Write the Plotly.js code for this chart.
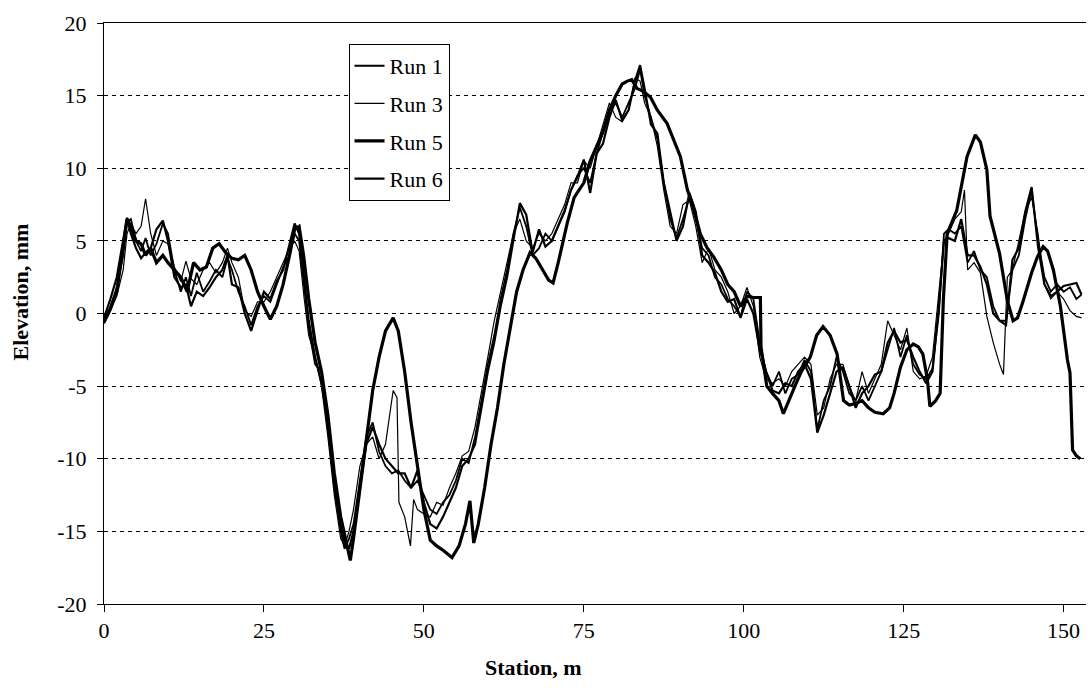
<!DOCTYPE html>
<html>
<head>
<meta charset="utf-8">
<script src="https://cdn.plot.ly/plotly-3.0.1.min.js"></script>
<style>html,body{margin:0;padding:0;background:#fff;}#chart{width:1089px;height:690px;}</style>
</head>
<body>
<div id="chart"></div>
<script>
// Station (m) and elevation (mm) for each run
const run1X = [0,1,2,3,3.6,4.2,5,5.8,6.5,7.3,8.2,9.2,10,11,12,12.8,13.6,14.5,15.5,16.5,17.5,18.5,19.3,20,21,22,23,24,25,26,27,28,29,29.8,30.5,31.3,32,33,34,35,36,37,37.6,38.3,39,40,41,42,43,44,45,46,47,48,49,50,51,52,53,54,55,56,57,58,59,60,61,62,63,64,65,66,67,68,69,70,71,72,73,74,75,76,77,78,79,80,81,82,83,83.8,84.5,85.5,86.5,87.5,88.5,89.5,90.5,91.5,92.5,93.5,94.5,95.5,96.5,97.5,98.5,99.5,100.5,101.5,102.5,103.5,104.5,105.5,106.5,107.5,108.5,109.5,110.5,111.5,112.5,113.5,114.5,115.5,116.5,117.5,118.5,119.5,120.5,121.5,122.5,123.5,124.5,125.5,126.5,127.5,128.5,129.5,130.5,131.3,132,133,134,135,136,137,138,139,140,141,142,143,144,145,146,147,148,149,150,151,152,152.8];
const run1Y = [-0.5,0.5,1.8,4.0,6.3,6.5,5.0,4.3,5.2,4.0,4.8,6.2,5.5,3.0,1.5,2.5,1.2,2.8,1.5,2.2,3.0,2.5,3.8,3.0,1.5,0.5,-0.8,0.5,1.2,0.8,2.0,3.2,4.0,5.5,5.0,2.0,-1.0,-3.5,-4.0,-8.0,-12.0,-15.0,-16.2,-15.5,-14.5,-11.5,-8.5,-7.5,-9.5,-10.5,-11.0,-10.8,-11.5,-12.0,-11.5,-12.5,-13.5,-13.8,-13.0,-12.5,-11.5,-10.0,-10.3,-8.5,-6.0,-3.5,-1.5,1.0,3.0,5.5,7.3,6.0,4.0,4.5,5.5,5.0,6.0,7.0,8.5,9.5,10.0,9.0,11.0,12.5,14.0,14.5,13.5,14.5,15.5,16.8,15.0,13.5,12.0,9.0,6.5,5.2,6.5,8.0,6.5,4.5,4.0,2.5,2.0,1.0,0.5,-0.2,1.5,1.0,-2.0,-4.0,-5.0,-4.0,-5.5,-4.5,-4.2,-3.2,-4.0,-8.0,-6.0,-5.0,-3.0,-4.0,-5.5,-6.0,-5.0,-6.0,-5.0,-4.0,-2.5,-1.0,-3.0,-1.5,-3.5,-4.2,-4.5,-3.8,0.0,5.5,5.8,5.5,6.0,3.5,4.3,3.0,2.5,0.5,-0.5,-0.5,3.0,4.0,6.5,8.5,5.0,2.5,1.5,2.0,1.5,1.8,1.0,1.3];

const run3X = [0,1,2,3,3.6,4.2,5,5.8,6.5,7.3,8.2,9.2,10,11,12,12.8,13.6,14.5,15.5,16.5,17.5,18.5,19.3,20,21,22,23,24,25,26,27,28,29,29.8,30.5,31.3,32,33,34,35,36,37,37.6,38.3,39,40,41,42,43,44,45.2,45.8,46.1,47,47.9,48.4,49,50,51,52,53,54,55,56,57,58,59,60,61,62,63,64,65,66,67,68,69,70,71,72,73,74,75,76,77,78,79,80,81,82,83,83.8,84.5,85.5,86.5,87.5,88.5,89.5,90.5,91.5,92.5,93.5,94.5,95.5,96.5,97.5,98.5,99.5,100.5,101.5,102.5,103.5,104.5,105.5,106.5,107.5,108.5,109.5,110.5,111.5,112.5,113.5,114.5,115.5,116.5,117.5,118.5,119.5,120.5,121.5,122.5,123.5,124.5,125.5,126.5,127.5,128.5,129.5,130.5,131.3,132,133,134,134.5,135,136,137,138,139,140,140.6,141.2,142,143,144,145,146,147,148,149,150,151,152,152.8];
const run3Y = [-0.7,0.2,1.2,3.0,5.5,6.2,5.5,6.0,7.9,5.5,4.0,5.0,4.8,3.2,2.2,3.6,2.4,2.0,3.0,3.5,2.8,3.5,4.5,3.5,2.5,0.2,-0.2,0.8,0.8,1.5,2.5,3.5,4.5,5.0,4.3,1.0,-1.5,-3.0,-5.0,-8.5,-12.5,-15.5,-16.0,-15.0,-13.5,-10.5,-9.0,-8.5,-10.0,-9.0,-5.3,-5.8,-13.0,-14.0,-16.0,-12.8,-13.5,-13.8,-14.0,-13.0,-13.2,-12.0,-11.0,-9.8,-9.5,-7.8,-5.5,-3.0,-0.5,1.5,3.5,5.5,6.5,5.0,4.5,5.5,5.0,5.5,6.5,7.5,9.0,9.0,10.5,10.0,11.5,13.0,14.5,13.5,13.2,14.0,16.2,16.0,14.5,13.5,11.5,8.5,6.0,5.5,7.5,7.8,6.0,3.5,4.5,3.0,2.5,1.5,0.0,0.5,1.8,0.5,-3.0,-4.5,-4.8,-4.5,-5.0,-4.0,-3.5,-3.0,-3.5,-7.0,-6.5,-4.5,-3.5,-3.5,-5.0,-6.0,-4.0,-5.5,-4.5,-3.5,-0.5,-1.5,-2.5,-1.0,-4.0,-4.5,-4.3,-3.0,1.5,5.0,5.5,6.5,7.0,8.5,3.0,3.5,2.8,-0.2,-2.0,-3.5,-4.2,2.5,3.0,5.0,7.0,8.0,5.5,2.0,1.0,1.5,1.0,0.2,-0.2,-0.3];

const run5X = [0,1,2,3,3.6,4.2,5,5.8,6.5,7.3,8.2,9.2,10,11,12,13,14,15,16,17,18,19,20,21,22,23,24,25,26,27,28,29,29.8,30.5,31.2,32,33,34,35,36,37,38,38.5,39,40,41,42,43,44,45.2,46,47,48,49,50,51,52,53,54.4,55.5,56.5,57.2,57.8,58.5,59.5,60.5,61.5,62.5,63.5,64.5,65.5,66.6,67.5,68.5,69.5,70.2,71,72.4,73.5,75,76,77,78,79,80,81,81.8,82.5,83.3,84.3,85.4,86.5,88,89,90.1,91.2,92,93.2,94.3,95.3,96.5,97.5,98.5,99.5,100.5,101.5,102.6,102.7,103.6,104.5,105.5,106.2,107,108,109,110.4,111.4,112.4,113.5,114.6,115.6,116.5,117.5,118.5,119.5,120.5,121.8,122.8,123.5,124.5,125.5,126.5,127.3,128,128.7,129.1,130,130.7,131.2,131.8,133.3,134.9,136.2,137,138,138.5,140,141.2,142.1,142.8,143.7,145,145.9,146.8,147.5,148.4,149.5,150.6,151,151.4,152,152.6];
const run5Y = [-0.6,0.3,1.5,4.5,6.5,6.0,5.0,4.8,4.0,4.5,3.5,4.0,3.5,3.0,2.5,1.5,3.5,3.0,3.2,4.5,4.8,4.2,3.8,3.7,4.0,3.0,1.5,0.5,-0.4,0.5,2.0,4.0,5.8,6.0,4.0,1.0,-2.0,-4.0,-7.0,-11.0,-14.0,-16.0,-17.0,-15.5,-12.0,-8.5,-5.3,-3.0,-1.2,-0.3,-1.2,-4.0,-7.5,-10.5,-13.5,-15.6,-16.0,-16.3,-16.8,-16.0,-14.5,-12.9,-15.8,-14.5,-12.0,-9.0,-6.5,-3.5,-0.9,1.5,3.0,4.2,3.8,3.0,2.3,2.1,3.5,6.2,8.0,9.0,10.5,11.5,12.5,14.0,15.0,15.8,16.0,16.1,15.5,15.3,14.9,14.0,13.1,12.0,10.8,8.5,7.5,5.5,4.5,3.9,3.0,2.0,1.5,0.5,1.2,1.1,1.1,-2.3,-5.0,-5.5,-6.0,-6.9,-6.0,-5.0,-4.0,-3.0,-1.5,-0.9,-1.5,-2.8,-6.0,-6.3,-6.2,-6.0,-6.5,-6.8,-6.9,-6.5,-5.5,-3.7,-2.5,-2.1,-2.3,-2.8,-4.5,-6.4,-6.0,-5.5,0.9,5.5,7.1,10.8,12.3,11.8,9.9,6.7,4.1,0.9,-0.5,-0.3,0.9,2.8,3.9,4.6,4.3,3.0,0.5,-3.2,-4.1,-9.4,-9.8,-10.0];

const run6X = run1X;
const run6Y = [-0.3,1.0,2.5,5.0,6.6,5.5,4.5,3.8,4.2,4.5,5.8,6.4,5.0,2.5,1.8,2.0,0.5,1.5,1.2,1.8,2.5,3.0,4.0,2.0,1.8,0.0,-1.2,0.2,1.5,1.0,2.2,3.0,4.8,6.2,5.5,2.5,-0.5,-3.0,-4.8,-7.5,-11.5,-14.5,-15.8,-16.2,-15.0,-12.0,-9.0,-7.8,-9.0,-10.0,-10.5,-11.0,-11.0,-12.0,-10.8,-13.0,-14.5,-14.8,-14.0,-13.0,-12.0,-10.5,-10.0,-9.0,-6.5,-4.0,-2.0,0.5,2.5,5.0,7.6,6.8,4.2,5.8,4.6,5.0,6.0,7.1,8.5,9.4,10.6,8.3,11.0,11.7,13.5,14.7,13.3,14.0,16.0,17.1,15.5,13.0,12.4,9.0,7.0,5.0,6.0,8.3,7.0,4.0,3.5,2.8,1.5,0.8,1.0,-0.3,1.0,0.0,-2.5,-4.0,-5.3,-5.5,-4.8,-5.0,-4.0,-3.5,-4.5,-8.2,-7.0,-5.5,-4.0,-3.7,-5.0,-6.5,-5.5,-5.0,-4.2,-4.0,-2.0,-1.2,-2.0,-1.8,-3.0,-4.0,-4.8,-4.0,0.5,5.0,5.2,5.0,6.5,4.0,4.0,3.2,2.0,0.0,-0.5,-0.8,3.7,4.5,7.0,8.7,4.6,2.0,1.2,1.5,1.9,2.0,2.1,1.3];

const seriesNames = ["Run 1","Run 3","Run 5","Run 6"];
const yTickVals = [-20,-15,-10,-5,0,5,10,15,20];
const yTickText = ["-20","-15","-10","-5","0","5","10","15","20"];
const xTickVals = [0,25,50,75,100,125,150];
const xTickText = ["0","25","50","75","100","125","150"];
const xTitle = "Station, m";
const yTitle = "Elevation, mm";

const widths = [1.8, 1.2, 3.2, 2.2];
const xs = [run1X, run3X, run5X, run6X];
const ys = [run1Y, run3Y, run5Y, run6Y];
const traces = seriesNames.map((n, i) => ({
  type: 'scatter', mode: 'lines', name: n, x: xs[i], y: ys[i],
  line: {color: '#000', width: widths[i]}, legendgroup: 'g' + i
}));

const serif = "'Liberation Serif', 'Times New Roman', Times, serif";
const layout = {
  width: 1089, height: 690,
  margin: {l: 104, r: 3, t: 23, b: 86},
  paper_bgcolor: '#fff', plot_bgcolor: '#fff',
  font: {family: serif, size: 21, color: '#000'},
  showlegend: true,
  legend: {
    x: 0.249, y: 0.9639, xanchor: 'left', yanchor: 'top',
    bgcolor: '#fff', bordercolor: '#000', borderwidth: 1,
    font: {family: serif, size: 22, color: '#000'},
    tracegroupgap: 6, itemwidth: 30
  },
  xaxis: {
    range: [0, 153.5], tickvals: xTickVals, ticktext: xTickText,
    showgrid: false, zeroline: false, showline: true, linecolor: '#000', linewidth: 1,
    mirror: true, ticks: 'outside', ticklen: 7, tickcolor: '#000',
    tickfont: {family: serif, size: 22, color: '#000'}
  },
  yaxis: {
    range: [-20, 20], tickvals: yTickVals, ticktext: yTickText,
    showgrid: true, gridcolor: '#000', gridwidth: 1, griddash: '4px,4px',
    zeroline: false, showline: true, linecolor: '#000', linewidth: 1,
    ticks: 'outside', ticklen: 6, tickcolor: '#000', ticklabelstandoff: 6,
    tickfont: {family: serif, size: 22, color: '#000'}
  },
  annotations: [
    {text: '<b>' + xTitle + '</b>', xref: 'paper', yref: 'paper', x: (533 - 104) / 982, y: -0.11,
     xanchor: 'center', yanchor: 'middle', showarrow: false, font: {family: serif, size: 22, color: '#000'}},
    {text: '<b>' + yTitle + '</b>', xref: 'paper', yref: 'paper', x: -0.086, y: (604 - 292) / 581,
     xanchor: 'center', yanchor: 'middle', textangle: -90, showarrow: false, font: {family: serif, size: 22, color: '#000'}}
  ]
};

Plotly.newPlot('chart', traces, layout, {displayModeBar: false, staticPlot: true});
</script>
</body>
</html>
